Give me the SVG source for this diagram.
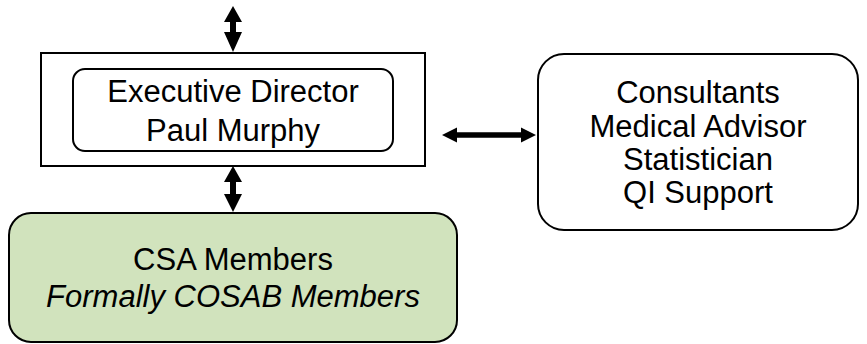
<svg xmlns="http://www.w3.org/2000/svg" width="867" height="344" viewBox="0 0 867 344">
<style>
.box{fill:#ffffff;stroke:#000;stroke-width:2}
.green{fill:#d1e3bd;stroke:#000;stroke-width:2}
.t{font-family:"Liberation Sans",Arial,sans-serif;font-size:31px;fill:#000;text-anchor:middle}
.i{font-style:italic}
.arr{fill:#000;stroke:none}
</style>
<rect width="867" height="344" fill="#fff"/>
<g id="connectors">
<polygon class="arr" points="233,6 224,22 230,22 230,32 224,32 233,52 242,32 236,32 236,22 242,22"/>
<polygon class="arr" points="233,166 224,182 230,182 230,194 224,194 233,212 242,194 236,194 236,182 242,182"/>
<polygon class="arr" points="442,135 457,127.5 457,132.3 521,132.3 521,127.5 536,135 521,142.5 521,137.7 457,137.7 457,142.5"/>
</g>
<g id="executive">
<rect class="box" x="41" y="53" width="384" height="113"/>
<rect class="box" x="73" y="69" width="320" height="82" rx="12" ry="12"/>
<text class="t" x="233" y="102">Executive Director</text>
<text class="t" x="233" y="141">Paul Murphy</text>
</g>
<g id="consultants">
<rect class="box" x="538" y="54" width="320" height="176" rx="26" ry="26"/>
<text class="t" x="698" y="103">Consultants</text>
<text class="t" x="698" y="137">Medical Advisor</text>
<text class="t" x="698" y="170">Statistician</text>
<text class="t" x="698" y="203">QI Support</text>
</g>
<g id="members">
<rect class="green" x="9" y="213" width="448" height="129" rx="22" ry="22"/>
<text class="t" x="233" y="270">CSA Members</text>
<text class="t i" x="233" y="307">Formally COSAB Members</text>
</g>
</svg>
